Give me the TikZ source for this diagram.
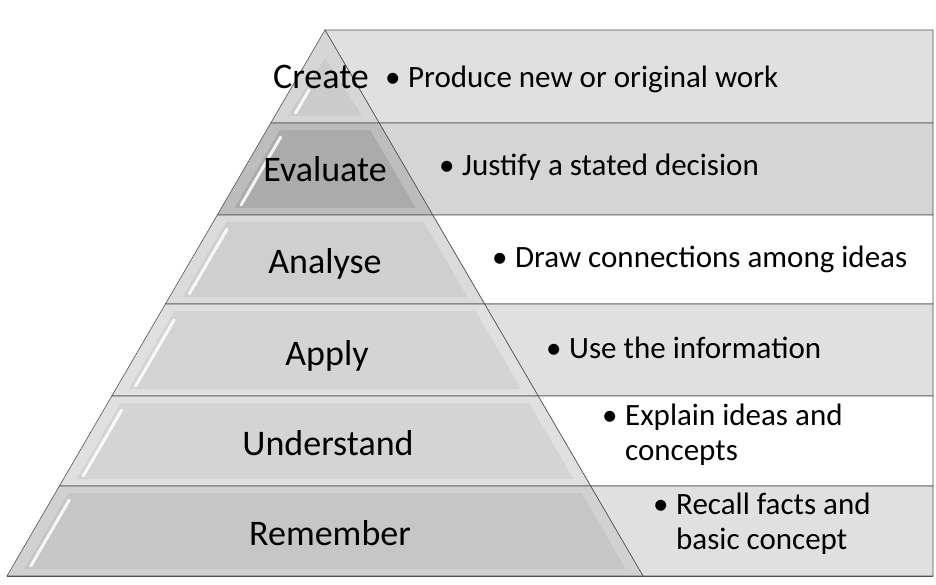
\documentclass[tikz,border=0pt]{standalone}
\usepackage{fontspec}
\setmainfont{Carlito}
\definecolor{rule}{gray}{0.32}
\definecolor{tierA}{gray}{0.84}
\definecolor{tierB}{gray}{0.74}
\definecolor{tierC}{gray}{0.86}
\definecolor{tierD}{gray}{0.88}
\definecolor{tierE}{gray}{0.88}
\definecolor{tierF}{gray}{0.82}
\definecolor{panelgrey}{gray}{0.88}
\tikzset{
  tier/.style={draw=rule, line width=0.6pt},
  core/.style={draw=none, fill=black, opacity=0.05},
  panel/.style={draw=rule, line width=0.6pt},
  lvl/.style={anchor=base, inner sep=0pt, font=\fontsize{36}{40}\selectfont},
  txt/.style={anchor=base west, inner sep=0pt, align=left, font=\fontsize{31}{35}\selectfont},
  gleam/.style={white, line width=3pt, line cap=round, opacity=0.85}
}
\newcommand{\bul}{\makebox[23pt][l]{\textbullet}}

\begin{document}
\begin{tikzpicture}[x=1pt, y=-1pt]
			%%%%% START %%%%%
			\useasboundingbox (0, 0) rectangle (936, 585);
			
			% right hand panels
			\draw[panel, fill=panelgrey] (325, 30) -- (933, 30) -- (933, 123) -- (379.2, 123) -- cycle;
			\draw[panel, fill=panelgrey!95!black] (379.2, 123) -- (933, 123) -- (933, 215) -- (432.7, 215) -- cycle;
			\draw[panel, fill=white] (432.7, 215) -- (933, 215) -- (933, 304) -- (484.6, 304) -- cycle;
			\draw[panel, fill=panelgrey] (484.6, 304) -- (933, 304) -- (933, 396) -- (538.2, 396) -- cycle;
			\draw[panel, fill=white] (538.2, 396) -- (933, 396) -- (933, 486) -- (590.6, 486) -- cycle;
			\draw[panel, fill=panelgrey] (590.6, 486) -- (933, 486) -- (933, 576) -- (643, 576) -- cycle;
			
			% pyramid
			\draw[tier, fill=tierA] (325, 30) -- (379.2, 123) -- (270.8, 123) -- cycle;
			\draw[tier, fill=tierB] (270.8, 123) -- (379.2, 123) -- (432.7, 215) -- (217.3, 215) -- cycle;
			\draw[tier, fill=tierC] (217.3, 215) -- (432.7, 215) -- (484.6, 304) -- (165.4, 304) -- cycle;
			\draw[tier, fill=tierD] (165.4, 304) -- (484.6, 304) -- (538.2, 396) -- (111.8, 396) -- cycle;
			\draw[tier, fill=tierE] (111.8, 396) -- (538.2, 396) -- (590.6, 486) -- (59.4, 486) -- cycle;
			\draw[tier, fill=tierF] (59.4, 486) -- (590.6, 486) -- (643, 576) -- (7, 576) -- cycle;
			\draw[rule, line width=0.8pt] (7, 576) -- (933, 576);
			
			% bevel: darker inner faces
			\fill[core] (325, 58) -- (362.1, 116) -- (287.9, 116) -- cycle;
			\fill[core, opacity=0.09] (279.8, 130) -- (370.2, 130) -- (415.7, 208) -- (234.3, 208) -- cycle;
			\fill[core] (226.2, 222) -- (423.8, 222) -- (467.5, 297) -- (182.5, 297) -- cycle;
			\fill[core] (174.3, 311) -- (475.7, 311) -- (521.1, 389) -- (128.9, 389) -- cycle;
			\fill[core] (120.8, 403) -- (529.2, 403) -- (573.5, 479) -- (76.5, 479) -- cycle;
			\fill[core] (68.3, 493) -- (581.7, 493) -- (625.9, 569) -- (24.1, 569) -- cycle;
			
			% highlights on the left face
			\draw[gleam] (309, 90) -- (295.6, 113);
			\draw[gleam] (280.7, 137) -- (241.1, 205);
			\draw[gleam] (227.1, 229) -- (189.2, 294);
			\draw[gleam] (174.1, 320) -- (135.7, 386);
			\draw[gleam] (121.7, 410) -- (83.2, 476);
			\draw[gleam] (69.3, 500) -- (30.8, 566);
			
			% levels
			\node[lvl] (create) at (321, 89) {Create};
			\node[lvl] (evaluate) at (325, 182) {Evaluate};
			\node[lvl] (analyse) at (325, 273) {Analyse};
			\node[lvl] (apply) at (327, 365) {Apply};
			\node[lvl] (understand) at (328, 455) {Understand};
			\node[lvl] (remember) at (330, 545) {Remember};
			
			% descriptions
			\node[txt] (createtxt) at (385, 88) {\bul Produce new or original work};
			\node[txt] (evaluatetxt) at (439, 176) {\bul Justify a stated decision};
			\node[txt] (analysetxt) at (492, 267) {\bul Draw connections among ideas};
			\node[txt] (applytxt) at (546, 358) {\bul Use the information};
			\node[txt] (understandtxt) at (602, 460) {\bul Explain ideas and\\\hspace*{23pt}concepts};
			\node[txt] (remembertxt) at (653, 549) {\bul Recall facts and\\\hspace*{23pt}basic concept};
			%%%%% END %%%%%
		\end{tikzpicture}
\end{document}
